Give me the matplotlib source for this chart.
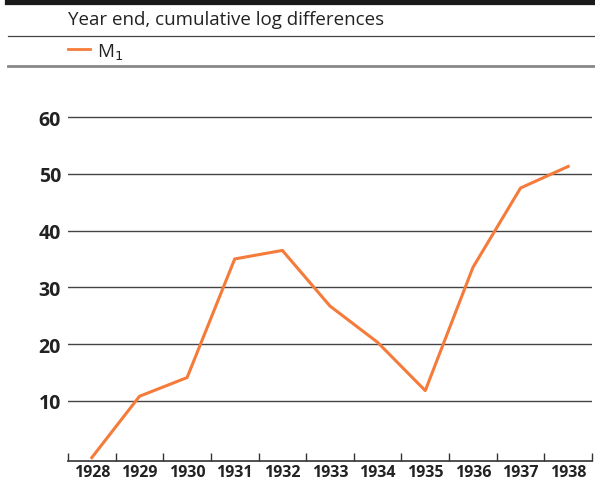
import numpy as np
import matplotlib.pyplot as plt
from matplotlib.lines import Line2D

years = [1928, 1929, 1930, 1931, 1932, 1933, 1934, 1935, 1936, 1937, 1938]
m1 = [0.0, 10.8, 14.1, 35.0, 36.5, 26.7, 20.3, 11.8, 33.5, 47.5, 51.3]
y_ticks = [10, 20, 30, 40, 50, 60]

orange = '#F47B3A'
W, H = 595, 485
plt.rcParams['font.family'] = ['Open Sans', 'DejaVu Sans']

fig = plt.figure(figsize=(W / 100, H / 100), dpi=100)
ax = fig.add_axes([68 / W, 1 - 462 / H, (592 - 68) / W, (462 - 84) / H])

ax.plot(years, m1, color=orange, lw=2.2)

ax.set_xlim(1927.5, 1938.5)
ax.set_ylim(-0.6, 66)

# tick marks between years, labels centred on each year
ax.set_xticks(np.arange(1927.5, 1939, 1.0))
ax.set_xticklabels([])
ax.set_xticks(years, minor=True)
ax.set_xticklabels([str(y) for y in years], minor=True, fontsize=11.5,
                   fontweight='bold', color='#222222')
ax.tick_params(axis='x', which='major', direction='in', length=6,
               width=1, color='#333333')
ax.tick_params(axis='x', which='minor', length=0, pad=2)

ax.set_yticks(y_ticks)
ax.set_yticklabels([str(v) for v in y_ticks], fontsize=14,
                   fontweight='bold', color='#222222')
ax.tick_params(axis='y', length=0, pad=5)
ax.grid(axis='y', color='#444444', lw=1)
ax.set_axisbelow(True)

for s in ['top', 'right', 'left']:
    ax.spines[s].set_visible(False)
ax.spines['bottom'].set_color('#333333')
ax.spines['bottom'].set_linewidth(1.2)

# header
fig.add_artist(Line2D([8 / W, 1], [1 - 3 / H, 1 - 3 / H], color='#1a1a1a', lw=4.5))
fig.text(68 / W, 1 - 20 / H, 'Year end, cumulative log differences',
         fontsize=13.5, color='#222222', va='center')
fig.add_artist(Line2D([8 / W, 1], [1 - 37 / H, 1 - 37 / H], color='#444444', lw=0.9))
fig.add_artist(Line2D([68 / W, 90 / W], [1 - 50 / H, 1 - 50 / H], color=orange, lw=2))
fig.text(97 / W, 1 - 53 / H, r'M$_1$', fontsize=13.5, color='#222222', va='center')
fig.add_artist(Line2D([8 / W, 1], [1 - 67 / H, 1 - 67 / H], color='#888888', lw=2))

fig.savefig('out.png', dpi=100)
